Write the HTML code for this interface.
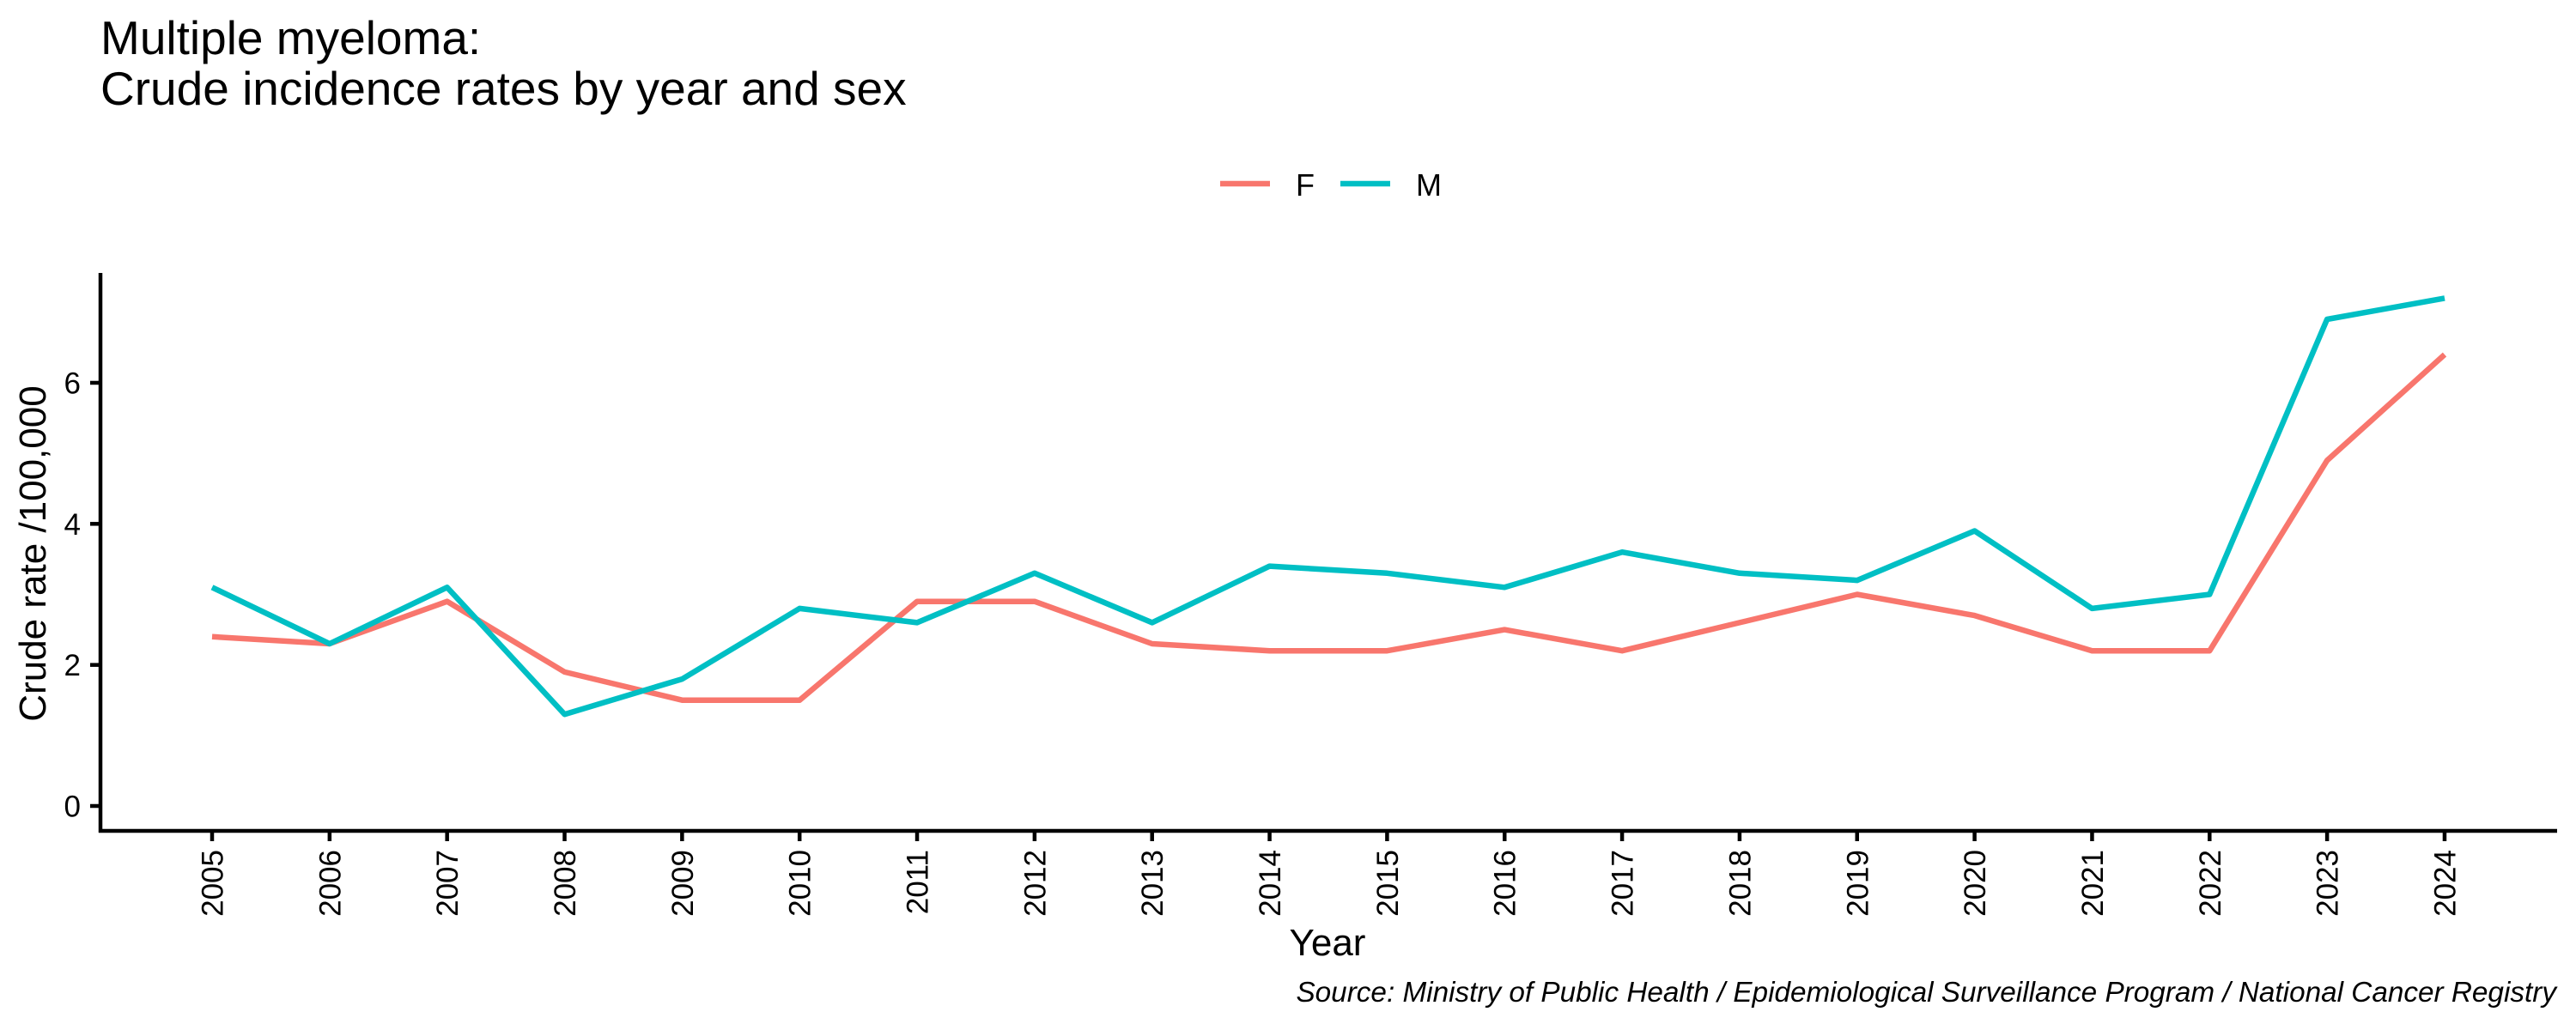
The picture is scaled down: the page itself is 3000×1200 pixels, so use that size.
<!DOCTYPE html>
<html><head><meta charset="utf-8"><style>
html,body{margin:0;padding:0;background:#fff;}
svg{display:block;font-family:"Liberation Sans",Arial,sans-serif;}
</style></head><body>
<svg id="s" width="3000" height="1200" xmlns="http://www.w3.org/2000/svg">
<rect width="3000" height="1200" fill="#fff"/>
<text x="117" y="63" font-size="55">Multiple myeloma:</text>
<text x="117" y="122" font-size="55">Crude incidence rates by year and sex</text>
<line x1="1421" y1="214" x2="1479" y2="214" stroke="#F8766D" stroke-width="6.5"/>
<text x="1509" y="228" font-size="36">F</text>
<line x1="1561" y1="214" x2="1619" y2="214" stroke="#00BFC4" stroke-width="6.5"/>
<text x="1649" y="228" font-size="36">M</text>
<text transform="translate(53,645) rotate(-90)" text-anchor="middle" font-size="44">Crude rate /100,000</text>
<text x="1546" y="1113" text-anchor="middle" font-size="44">Year</text>
<text x="2977" y="1167" text-anchor="end" font-size="33.3" font-style="italic">Source: Ministry of Public Health / Epidemiological Surveillance Program / National Cancer Registry</text>
<g id="g"></g>
</svg>
<script>
var F=[2.4,2.3,2.9,1.9,1.5,1.5,2.9,2.9,2.3,2.2,2.2,2.5,2.2,2.6,3.0,2.7,2.2,2.2,4.9,6.4];
var M=[3.1,2.3,3.1,1.3,1.8,2.8,2.6,3.3,2.6,3.4,3.3,3.1,3.6,3.3,3.2,3.9,2.8,3.0,6.9,7.2];
function X(i){return 247+i*136.84;}
function Y(v){return 939-v*82.17;}
var h='';
h+='<line x1="117" y1="318" x2="117" y2="970" stroke="#000" stroke-width="4.5"/>';
h+='<line x1="115" y1="968" x2="2978" y2="968" stroke="#000" stroke-width="4.5"/>';
[0,2,4,6].forEach(function(v){var y=Y(v);
h+='<line x1="105" y1="'+y+'" x2="117" y2="'+y+'" stroke="#000" stroke-width="4.5"/>';
h+='<text x="94" y="'+(y+12.5)+'" text-anchor="end" font-size="35" fill="#000">'+v+'</text>';});
for(var i=0;i<20;i++){var x=X(i);
h+='<line x1="'+x+'" y1="968" x2="'+x+'" y2="980" stroke="#000" stroke-width="4.5"/>';
h+='<text transform="translate('+(x+12.5)+',990) rotate(-90)" text-anchor="end" font-size="35" fill="#000">'+(2005+i)+'</text>';}
function pl(d,c){var p=d.map(function(v,i){return X(i).toFixed(1)+','+Y(v).toFixed(1);}).join(' ');
return '<polyline points="'+p+'" fill="none" stroke="'+c+'" stroke-width="6.5" stroke-linejoin="round"/>';}
h+=pl(F,'#F8766D')+pl(M,'#00BFC4');
document.getElementById('g').innerHTML=h;
</script>
</body></html>
